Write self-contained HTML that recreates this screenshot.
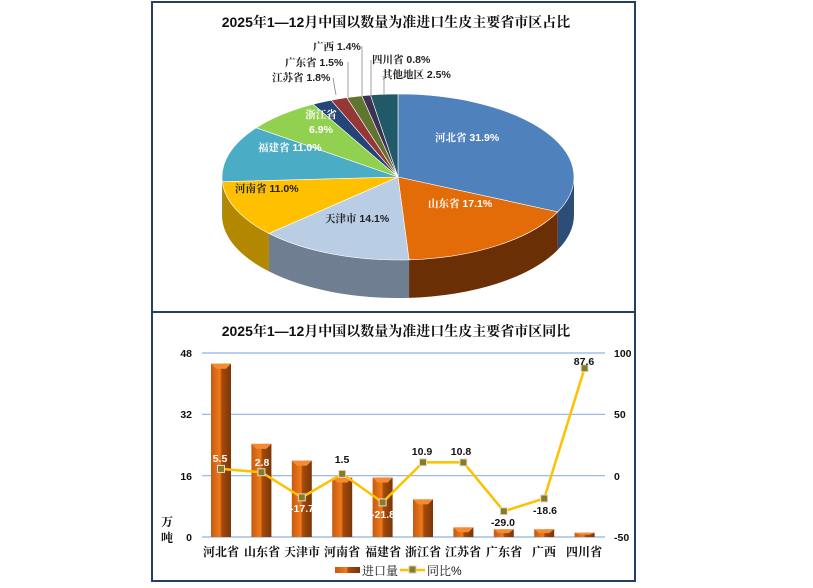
<!DOCTYPE html>
<html><head><meta charset="utf-8">
<style>
html,body{margin:0;padding:0;background:#fff;}
svg{display:block;font-family:"Liberation Sans","Noto Serif CJK SC","Noto Sans CJK SC",sans-serif;}
.t{font-weight:bold;font-size:14px;fill:#111;}
.lb{font-size:10.5px;font-weight:bold;}
</style></head><body>
<svg id="s" width="813" height="588" viewBox="0 0 813 588" xmlns="http://www.w3.org/2000/svg">
<defs>
<linearGradient id="bar" x1="0" x2="1" y1="0" y2="0">
<stop offset="0" stop-color="#c55a11"/><stop offset="0.45" stop-color="#f07a1a"/><stop offset="0.55" stop-color="#a54a0c"/><stop offset="1" stop-color="#7a3608"/>
</linearGradient>
</defs>
<rect x="152" y="2" width="483" height="579" fill="#fff" stroke="#243f60" stroke-width="2"/>
<line x1="152" y1="312" x2="635" y2="312" stroke="#243f60" stroke-width="2"/>
<text class="t" x="396" y="27" text-anchor="middle">2025年1—12月中国以数量为准进口生皮主要省市区占比</text>
<g id="pie"></g>
<g class="lb">
<text x="435" y="141" fill="#fff">河北省 31.9%</text>
<text x="428" y="207" fill="#fff">山东省 17.1%</text>
<text x="325" y="222" fill="#222">天津市 14.1%</text>
<text x="235" y="192" fill="#222">河南省 11.0%</text>
<text x="258" y="151" fill="#fff">福建省 11.0%</text>
<text x="321" y="118" fill="#fff" text-anchor="middle">浙江省</text>
<text x="321" y="133" fill="#fff" text-anchor="middle">6.9%</text>
<g fill="#222">
<text x="313" y="50">广西 1.4%</text>
<text x="285" y="66">广东省 1.5%</text>
<text x="272" y="81">江苏省 1.8%</text>
<text x="372" y="63">四川省 0.8%</text>
<text x="382" y="78">其他地区 2.5%</text>
</g>
</g>
<g stroke="#888" stroke-width="0.8" fill="none">
<polyline points="333,78 336,95"/>
<polyline points="348,62 348,97"/>
<polyline points="362,46 362,96"/>
<polyline points="371,60 371,96"/>
<polyline points="384,76 384,95"/>
</g>

<text class="t" x="396" y="336" text-anchor="middle">2025年1—12月中国以数量为准进口生皮主要省市区同比</text>
<g stroke="#8db3e2" stroke-width="1.2">
<line x1="202" y1="353" x2="605" y2="353"/>
<line x1="202" y1="414.3" x2="605" y2="414.3"/>
<line x1="202" y1="475.7" x2="605" y2="475.7"/>
<line x1="202" y1="537" x2="605" y2="537"/>
</g>
<g class="lb" fill="#111" font-size="10">
<text x="192" y="357" text-anchor="end">48</text>
<text x="192" y="418" text-anchor="end">32</text>
<text x="192" y="480" text-anchor="end">16</text>
<text x="192" y="541" text-anchor="end">0</text>
<text x="614" y="357">100</text>
<text x="614" y="418">50</text>
<text x="614" y="480">0</text>
<text x="614" y="541">-50</text>
</g>
<text x="167" y="526" font-size="12" font-weight="bold" fill="#111" text-anchor="middle">万</text>
<text x="167" y="542" font-size="12" font-weight="bold" fill="#111" text-anchor="middle">吨</text>
<g id="bars"></g>
<g font-size="12" font-weight="bold" fill="#111" text-anchor="middle">
<text x="221" y="556">河北省</text><text x="262" y="556">山东省</text><text x="302" y="556">天津市</text>
<text x="342" y="556">河南省</text><text x="383" y="556">福建省</text><text x="423" y="556">浙江省</text>
<text x="463" y="556">江苏省</text><text x="504" y="556">广东省</text><text x="544" y="556">广西</text><text x="584" y="556">四川省</text>
</g>
<g class="lb" text-anchor="middle">
<text x="220" y="462" fill="#fff">5.5</text>
<text x="262" y="466" fill="#fff">2.8</text>
<text x="302" y="512" fill="#fff">-17.7</text>
<text x="342" y="463" fill="#111">1.5</text>
<text x="383" y="518" fill="#fff">-21.8</text>
<text x="422" y="455" fill="#111">10.9</text>
<text x="461" y="455" fill="#111">10.8</text>
<text x="503" y="526" fill="#111">-29.0</text>
<text x="545" y="514" fill="#111">-18.6</text>
<text x="584" y="365" fill="#111">87.6</text>
</g>
<rect x="335" y="567" width="25" height="6" fill="url(#bar)"/>
<text x="362" y="575" font-size="12" fill="#111">进口量</text>
<line x1="400" y1="570" x2="425" y2="570" stroke="#ffc000" stroke-width="2.5"/>
<rect x="409" y="566" width="7" height="7" fill="#8a7a20" stroke="#ccc" stroke-width="1"/>
<text x="427" y="575" font-size="12" fill="#111">同比%</text>
</svg>
<script>
(function(){
var NS="http://www.w3.org/2000/svg";
function el(t,a,p){var e=document.createElementNS(NS,t);for(var k in a)e.setAttribute(k,a[k]);p.appendChild(e);return e;}
var pie=document.getElementById("pie");
var cx=398,cy=177,rx=176,ry=83,d=38;
var v=[31.9,17.1,14.1,11.0,11.0,6.9,1.8,1.5,1.4,0.8,2.5];
var c=["#4f81bd","#e36c09","#b9cde5","#ffc000","#4bacc6","#92d050","#254478","#953735","#5f7530","#3f3151","#215968"];
var sc=["#2c4d75","#6b2f06","#6f7f91","#b38700","#2e7a8c","#5e8a2c","#152840","#5a1f1e","#394619","#251d31","#123640"];
function P(a,o){return [cx+rx*Math.cos(a),cy+ry*Math.sin(a)+(o||0)];}
var a0=-Math.PI/2,angs=[];
for(var i=0;i<v.length;i++){var a1=a0+v[i]/100*2*Math.PI;angs.push([a0,a1]);a0=a1;}
for(var i=0;i<v.length;i++){
 var s=Math.max(angs[i][0],0),e=Math.min(angs[i][1],Math.PI);
 if(e<=s)continue;
 var p1=P(s),p2=P(e),p3=P(e,d),p4=P(s,d);
 var g="M"+p1+" A"+rx+","+ry+" 0 0 1 "+p2+" L"+p3+" A"+rx+","+ry+" 0 0 0 "+p4+" Z";
 el("path",{d:g,fill:sc[i]},pie);
}
for(var i=0;i<v.length;i++){
 var p1=P(angs[i][0]),p2=P(angs[i][1]);
 var lg=(angs[i][1]-angs[i][0])>Math.PI?1:0;
 el("path",{d:"M"+cx+","+cy+" L"+p1+" A"+rx+","+ry+" 0 "+lg+" 1 "+p2+" Z",fill:c[i],stroke:"#fff","stroke-width":"0.6"},pie);
}
var bars=document.getElementById("bars");
var bv=[45.2,24.3,19.9,15.5,15.5,9.8,2.5,2.0,2.0,1.1];
var yv=[5.5,2.8,-17.7,1.5,-21.8,10.9,10.8,-29.0,-18.6,87.6];
var pts=[];
for(var i=0;i<10;i++){
 var x=221+40.4*i,h=bv[i]/48*184,y=537-h;
 el("rect",{x:x-10,y:y,width:20,height:h,fill:"url(#bar)"},bars);
 el("path",{d:"M"+(x-10)+","+y+" L"+(x+10)+","+y+" L"+(x+5)+","+(y+Math.min(5,h/2))+" L"+(x-5)+","+(y+Math.min(5,h/2))+"Z",fill:"#f58a30"},bars);
 pts.push(x+","+(537-(yv[i]+50)/150*184));
}
el("polyline",{points:pts.join(" "),fill:"none",stroke:"#ffc000","stroke-width":"2.5"},bars);
pts.forEach(function(p){var q=p.split(",");el("rect",{x:q[0]-3.5,y:q[1]-3.5,width:7,height:7,fill:"#8a7a20",stroke:"#ddd","stroke-width":"1"},bars);});
})();
</script>
</body></html>
